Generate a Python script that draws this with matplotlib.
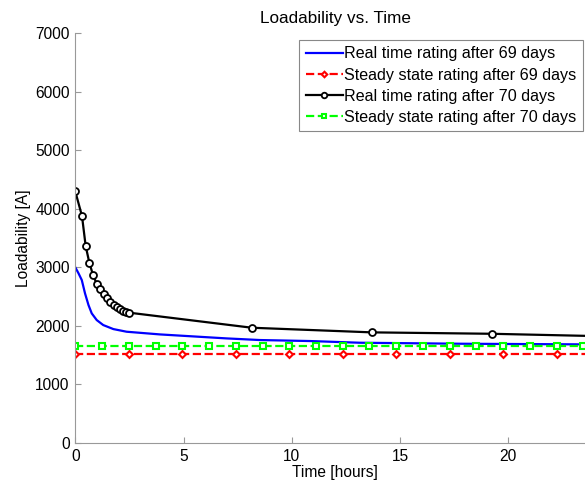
import matplotlib
matplotlib.use('Agg')
import matplotlib.pyplot as plt

plt.rcParams['font.family'] = ['Liberation Sans', 'DejaVu Sans']
plt.rcParams['font.size'] = 11.2

# real time rating after 69 days (blue)
t_rt69 = [0, 0.15, 0.30, 0.45, 0.61, 0.76, 0.99, 1.29, 1.76, 2.37, 3.91, 6.99, 8.53, 10.84,
          13.15, 17.77, 23.43, 24.0]
rt69 = [3000, 2896, 2782, 2554, 2355, 2213, 2099, 2014, 1945, 1900, 1854, 1786, 1758, 1741,
        1712, 1695, 1684, 1682]

# steady state rating after 69 days (red)
t_ss69 = [0, 2.47, 4.94, 7.41, 9.88, 12.35, 14.82, 17.29, 19.76, 22.24, 24.0]
ss69 = [1519, 1519, 1519, 1519, 1519, 1519, 1519, 1519, 1519, 1519, 1519]

# real time rating after 70 days (black)
t_rt70 = [0, 0.31, 0.48, 0.65, 0.82, 0.99, 1.15, 1.31, 1.46, 1.62, 1.77, 1.91, 2.06, 2.22, 2.34, 2.47,
          8.16, 13.7, 19.23, 24.0]
rt70 = [4295, 3874, 3362, 3077, 2867, 2718, 2623, 2538, 2469, 2406, 2360, 2321, 2282, 2260, 2236, 2226,
        1968, 1889, 1865, 1826]

# steady state rating after 70 days (green)
t_ss70 = [0, 1.24, 2.47, 3.71, 4.94, 6.18, 7.41, 8.65, 9.88, 11.12, 12.35, 13.59, 14.82, 16.06,
          17.29, 18.53, 19.76, 21.0, 22.24, 23.47, 24.0]
ss70 = [1655, 1655, 1655, 1655, 1655, 1655, 1655, 1655, 1655, 1655, 1655, 1655, 1655, 1655,
        1655, 1655, 1655, 1655, 1655, 1655, 1655]

fig = plt.figure(figsize=(5.85, 4.87), dpi=100)
# axes runs slightly past the right edge of the figure (cropped like the original)
ax = fig.add_axes([0.1287, 0.0903, 0.888, 0.842])

ax.plot(t_rt69, rt69, color='#0000ff', lw=1.6, label='Real time rating after 69 days')
ax.plot(t_ss69, ss69, color='#ff0000', lw=1.6, ls='--', marker='D', ms=3.5,
        mfc='white', mec='#ff0000', mew=1.5, markevery=list(range(10)),
        label='Steady state rating after 69 days')
ax.plot(t_rt70, rt70, color='black', lw=1.6, marker='o', ms=5, mfc='white',
        mec='black', mew=1.3, markevery=list(range(19)),
        label='Real time rating after 70 days')
ax.plot(t_ss70, ss70, color='#00ff00', lw=1.6, ls='--', marker='s', ms=4,
        mfc='white', mec='#00ff00', mew=1.5, markevery=list(range(20)),
        label='Steady state rating after 70 days')

ax.set_xlim(0, 24)
ax.set_ylim(0, 7000)
ax.set_xticks([0, 5, 10, 15, 20])
ax.set_yticks(range(0, 7001, 1000))

for s in ['top', 'right']:
    ax.spines[s].set_visible(False)
for s in ['left', 'bottom']:
    ax.spines[s].set_color('#999999')
ax.tick_params(direction='in', length=4, color='#999999', labelcolor='black', pad=4)

ax.set_title('Loadability vs. Time', fontsize=12.3, pad=7)
ax.set_xlabel('Time [hours]', labelpad=1)
ax.set_ylabel('Loadability [A]', labelpad=3)

leg = ax.legend(loc='upper right', bbox_to_anchor=(583 / 585, 1 - 40 / 487),
                bbox_transform=fig.transFigure, numpoints=1, fontsize=11.6,
                handlelength=2.3, handletextpad=0.1, borderpad=0.4, labelspacing=0.38,
                borderaxespad=0, fancybox=False, framealpha=1, markerscale=0.8)
leg.get_frame().set_edgecolor('#888888')
leg.get_frame().set_linewidth(0.8)

fig.savefig('out.png', dpi=100)
